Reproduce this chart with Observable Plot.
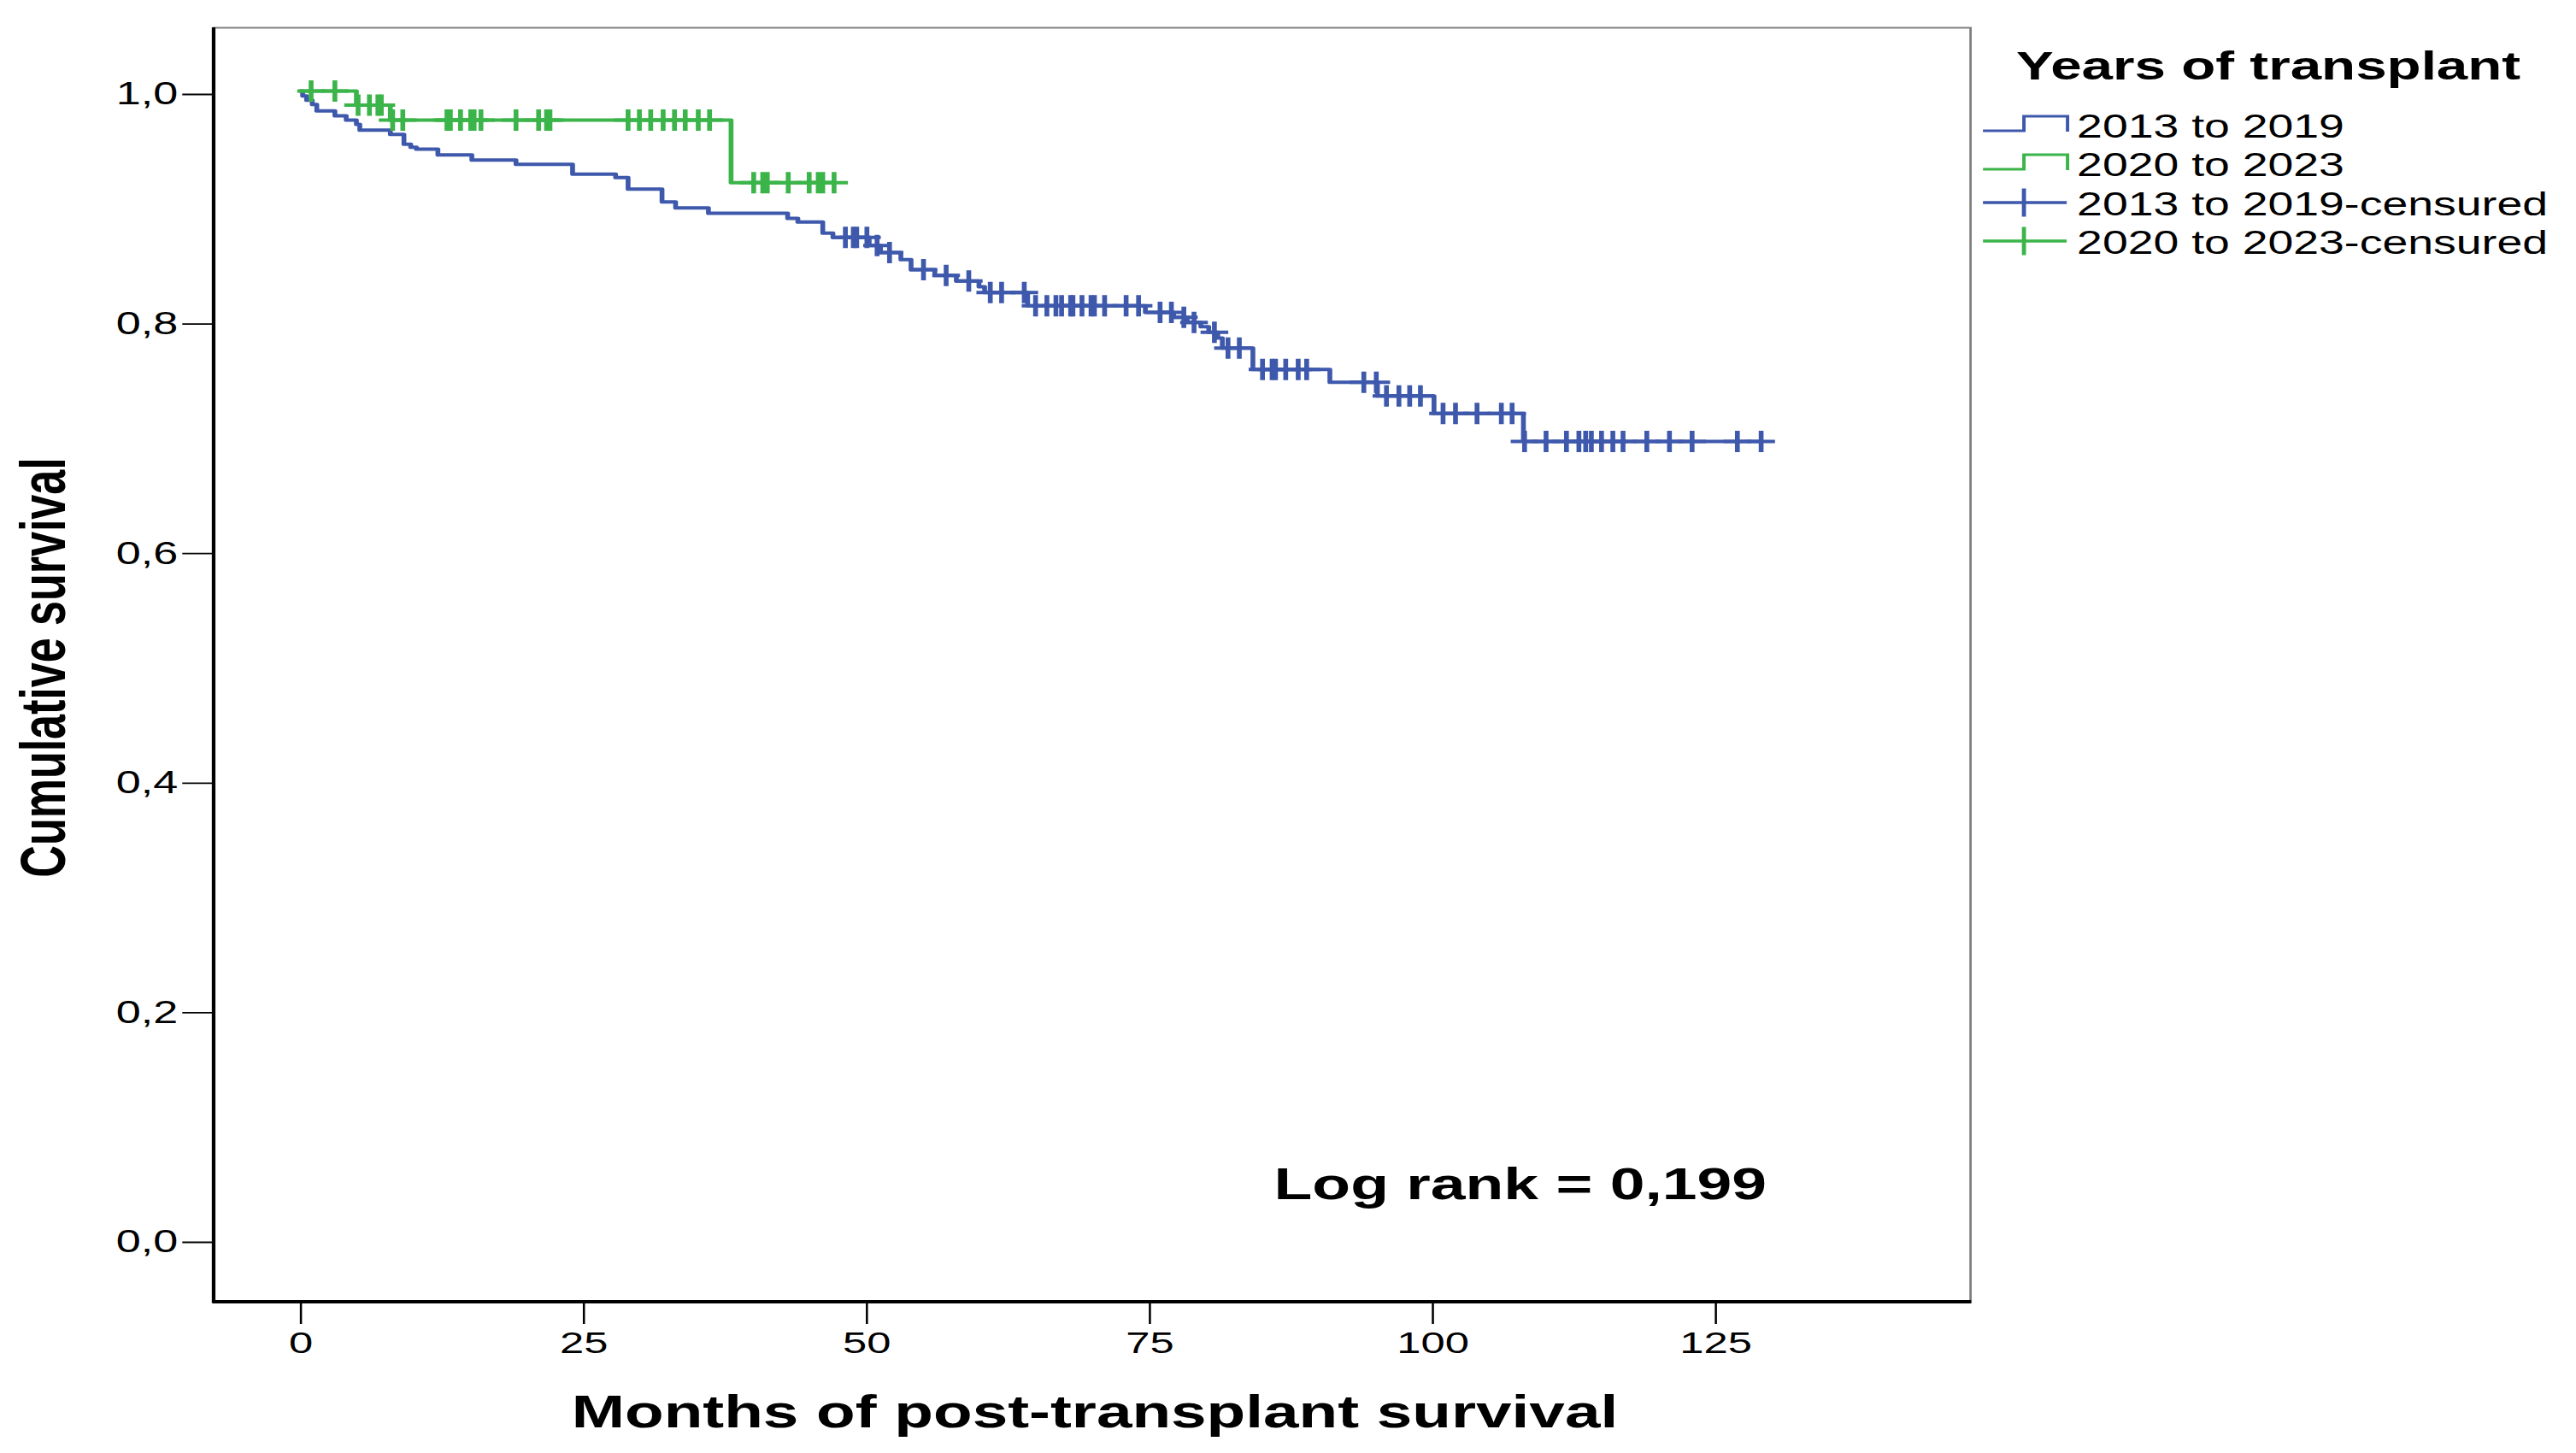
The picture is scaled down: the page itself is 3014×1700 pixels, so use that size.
<!DOCTYPE html>
<html>
<head>
<meta charset="utf-8">
<script src="https://cdn.jsdelivr.net/npm/d3@7"></script>
<script src="https://cdn.jsdelivr.net/npm/@observablehq/plot@0.6"></script>
<style>
  html, body { margin: 0; padding: 0; background: #fff; }
  #chart { width: 3014px; height: 1700px; overflow: hidden; }
</style>
</head>
<body>
<div id="chart"></div>
<script>
// ---------------- DATA ----------------
const seriesNames = ["2013 to 2019", "2020 to 2023"];
const seriesColors = ["#3E58AC", "#3BB44A"];
const legendTitle = "Years of transplant";
const censoredSuffix = "-censured";
const xTitle = "Months of post-transplant survival";
const yTitle = "Cumulative survival";
const logRankText = "Log rank = 0,199";
const xTicks = [0, 25, 50, 75, 100, 125];
const yTicks = [0, 0.2, 0.4, 0.6, 0.8, 1.0];

// 2013 to 2019: event times (months) and survival after each event
const blueEventTimes = [0.15, 0.5, 1.0, 1.4, 3.0, 4.0, 4.9, 5.2, 7.9, 9.1, 9.7, 10.2, 12.1, 15.1, 19.0, 24.0, 27.8, 28.9,
  31.9, 33.1, 36.0, 43.0, 43.9, 46.1, 47.0, 50.2, 51.2, 53.0, 53.9, 56.0, 57.9, 59.9, 60.4, 64.2, 74.6, 77.1, 78.3,
  79.5, 80.2, 81.0, 81.4, 84.1, 90.9, 95.1, 100.1, 108.0];
const blueEventSurv = [0.9958, 0.9920, 0.9883, 0.9826, 0.9784, 0.9747, 0.9709, 0.9659, 0.9622, 0.9536, 0.9511, 0.9494,
  0.9444, 0.9399, 0.9362, 0.9275, 0.9246, 0.9146, 0.9034, 0.8982, 0.8935, 0.8891, 0.8859, 0.8762, 0.8724, 0.8655,
  0.8593, 0.8531, 0.8444, 0.8394, 0.8345, 0.8295, 0.8245, 0.8129, 0.8071, 0.8029, 0.7984, 0.7947, 0.7898, 0.7848,
  0.7761, 0.7575, 0.7463, 0.7344, 0.7191, 0.6947];
const blueCensorTimes = [48.1, 48.8, 49.1, 50.0, 50.9, 52.0, 55.0, 57.0, 59.0, 60.9, 61.9, 63.9, 64.9, 65.9, 66.7, 67.2,
  68.0, 68.2, 69.0, 69.8, 70.1, 71.0, 72.9, 74.0, 75.9, 76.9, 78.0, 78.9, 80.7, 81.9, 82.9, 84.95, 85.8, 86.1, 87.0,
  88.1, 88.85, 93.9, 95.0, 95.9, 97.0, 97.95, 98.9, 100.9, 102.0, 103.9, 106.05, 107.0, 108.1, 110.0, 111.8, 112.9,
  113.5, 114.0, 114.9, 115.9, 116.8, 118.9, 120.9, 122.9, 126.9, 129.0];

// 2020 to 2023
const greenEventTimes = [4.9, 7.9, 38.0];
const greenEventSurv = [0.9878, 0.9747, 0.9201];
const greenCensorTimes = [0.9, 3.0, 5.05, 6.05, 6.8, 7.1, 8.1, 9.0, 12.9, 13.2, 14.1, 15.0, 15.3, 15.9, 19.0, 21.0,
  21.7, 22.0, 28.9, 29.9, 30.9, 32.0, 33.0, 33.95, 35.1, 36.1, 40.0, 40.8, 41.2, 43.05, 44.9, 45.7, 46.1, 47.1];

// ---------------- BUILD ----------------
function stepPoints(name, times, surv, censors) {
  const pts = [{series: name, t: 0, s: 1}];
  times.forEach((t, i) => pts.push({series: name, t, s: surv[i]}));
  const end = Math.max(censors[censors.length - 1], times[times.length - 1]);
  pts.push({series: name, t: end, s: surv[surv.length - 1]});
  return pts;
}
function kmAt(t, times, surv) {
  let s = 1;
  for (let i = 0; i < times.length; i++) if (times[i] <= t) s = surv[i];
  return s;
}
function censorPoints(name, censors, times, surv) {
  return censors.map(t => ({series: name, t, s: kmAt(t, times, surv)}));
}
const bluePts = stepPoints(seriesNames[0], blueEventTimes, blueEventSurv, blueCensorTimes);
const greenPts = stepPoints(seriesNames[1], greenEventTimes, greenEventSurv, greenCensorTimes);
const blueCens = censorPoints(seriesNames[0], blueCensorTimes, blueEventTimes, blueEventSurv);
const greenCens = censorPoints(seriesNames[1], greenCensorTimes, greenEventTimes, greenEventSurv);

// plus-shaped censor symbol
const plusSymbol = {
  draw(ctx) {
    const h = 11.5, v = 12.5;
    ctx.moveTo(-h, 0); ctx.lineTo(h, 0);
    ctx.moveTo(0, -v); ctx.lineTo(0, v);
  }
};

const BASE_W = 2138, OUT_W = 3014, H = 1700;
const FONT = "'Liberation Sans', Arial, Helvetica, sans-serif";
const fmtComma = d => d.toFixed(1).replace(".", ",");

const chart = Plot.plot({
  width: BASE_W,
  height: H,
  marginLeft: 177.3,
  marginRight: 503,
  marginTop: 32,
  marginBottom: 177,
  style: {fontFamily: FONT, color: "black", background: "white"},
  x: {domain: [-7.66, 147.5], label: null},
  y: {domain: [-0.0551, 1.0551], label: null},
  marks: [
    Plot.frame({stroke: "#808080", strokeWidth: 2}),
    Plot.axisY({ticks: yTicks, tickFormat: fmtComma, tickSize: 26, tickPadding: 4, fontSize: 37, dy: 4,
      strokeWidth: 1.8, label: null}),
    Plot.axisX({ticks: xTicks, tickFormat: d => String(d), tickSize: 26, tickPadding: 8, fontSize: 36,
      strokeWidth: 1.8, label: null}),
    Plot.line(bluePts, {x: "t", y: "s", curve: "step-after", stroke: seriesColors[0], strokeWidth: 4}),
    Plot.dot(blueCens, {x: "t", y: "s", symbol: plusSymbol, stroke: seriesColors[0], fill: "none", strokeWidth: 4}),
    Plot.line(greenPts, {x: "t", y: "s", curve: "step-after", stroke: seriesColors[1], strokeWidth: 4}),
    Plot.dot(greenCens, {x: "t", y: "s", symbol: plusSymbol, stroke: seriesColors[1], fill: "none", strokeWidth: 4})
  ]
});

const svg = d3.select(chart);
const xr = chart.scale("x").range, yr = chart.scale("y").range;
const fx0 = Math.min(...xr), fy1 = Math.max(...yr), fy0 = Math.min(...yr);

// black axis lines (left and bottom)
svg.append("line").attr("x1", fx0).attr("x2", fx0).attr("y1", fy0).attr("y2", fy1 + 1.5)
  .attr("stroke", "black").attr("stroke-width", 3);
svg.append("line").attr("x1", fx0 - 1).attr("x2", Math.max(...xr) + 1).attr("y1", fy1).attr("y2", fy1)
  .attr("stroke", "black").attr("stroke-width", 4);

// titles
svg.append("text").attr("x", 908.7).attr("y", 1670).attr("text-anchor", "middle")
  .attr("font-family", FONT).attr("font-weight", "bold").attr("font-size", 53).attr("fill", "black").text(xTitle);
svg.append("text").attr("transform", "translate(54,781) rotate(-90)").attr("text-anchor", "middle")
  .attr("font-family", FONT).attr("font-weight", "bold").attr("font-size", 52).attr("fill", "black").text(yTitle);
svg.append("text").attr("x", 1466.3).attr("y", 1403).attr("text-anchor", "end")
  .attr("font-family", FONT).attr("font-weight", "bold").attr("font-size", 52).attr("fill", "black").text(logRankText);

// legend
const lg = svg.append("g").attr("text-anchor", "start");
lg.append("text").attr("x", 1673.4).attr("y", 93).attr("text-anchor", "start").attr("font-family", FONT)
  .attr("font-weight", "bold").attr("font-size", 46.5).attr("fill", "black").text(legendTitle);
const legendItems = [
  {label: seriesNames[0], color: seriesColors[0], kind: "step"},
  {label: seriesNames[1], color: seriesColors[1], kind: "step"},
  {label: seriesNames[0] + censoredSuffix, color: seriesColors[0], kind: "censor"},
  {label: seriesNames[1] + censoredSuffix, color: seriesColors[1], kind: "censor"}
];
const baselines = [161, 206, 252, 297];
const symX0 = 1645.8, symXm = 1679.8, symX1 = 1716.0;
legendItems.forEach((it, i) => {
  const b = baselines[i];
  if (it.kind === "step") {
    const low = b - 8, high = b - 25;
    lg.append("path").attr("d", `M${symX0},${low}H${symXm}V${high}H${symX1}V${low + 1}`)
      .attr("fill", "none").attr("stroke", it.color).attr("stroke-width", 2.8);
  } else {
    const mid = b - 15;
    lg.append("path").attr("d", `M${symX0},${mid}H${symX1 - 0.7}M${symXm},${mid - 16.5}V${mid + 16.5}`)
      .attr("fill", "none").attr("stroke", it.color).attr("stroke-width", 3.4);
  }
  lg.append("text").attr("x", 1723.8).attr("y", b).attr("text-anchor", "start").attr("font-family", FONT)
    .attr("font-size", 38).attr("fill", "black").text(it.label);
});

// stretch horizontally to the output size
chart.setAttribute("viewBox", `0 0 ${BASE_W} ${H}`);
chart.setAttribute("width", OUT_W);
chart.setAttribute("height", H);
chart.setAttribute("preserveAspectRatio", "none");
chart.style.maxWidth = "none";
chart.style.width = OUT_W + "px";
chart.style.height = H + "px";

document.getElementById("chart").appendChild(chart);
</script>
</body>
</html>
